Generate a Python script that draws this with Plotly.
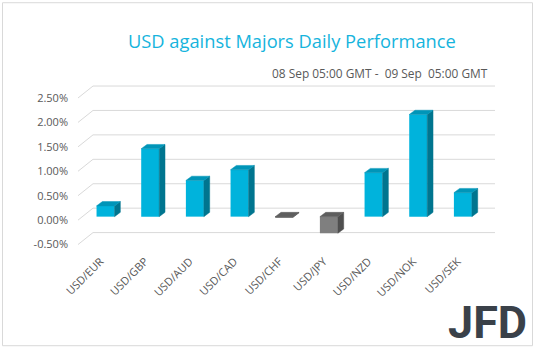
import plotly.graph_objects as go

# ---- data ----
categories = ["USD/EUR", "USD/GBP", "USD/AUD", "USD/CAD", "USD/CHF",
              "USD/JPY", "USD/NZD", "USD/NOK", "USD/SEK"]
values = [0.22, 1.39, 0.74, 0.96, -0.01, -0.34, 0.90, 2.09, 0.49]
ytick_vals = [-0.5, 0.0, 0.5, 1.0, 1.5, 2.0, 2.5]
ytick_text = ["-0.50%", "0.00%", "0.50%", "1.00%", "1.50%", "2.00%", "2.50%"]
title_text = "USD against Majors Daily Performance"
subtitle_text = "08 Sep 05:00 GMT -\u00a0 09 Sep\u00a0 05:00 GMT"

# ---- geometry (pixel layout) ----
W, H = 538, 351
PL, PR, PB, PT = 78, 500, 247.5, 78
PXU = 44.67   # px per category
PYU = 49.0    # px per 1%
XMIN = -0.5
XMAX = XMIN + (PR - PL) / PXU
YMIN = -0.55
YMAX = YMIN + (PB - PT) / PYU


def ux(p):
    return p / PXU


def uy(p):
    return p / PYU


def paper_x(p):
    return (p - PL) / (PR - PL)


def paper_y(p):
    return (PB - p) / (PB - PT)


FRONT_DX, FRONT_DY = ux(5.2), uy(3.5)
BAR_W = ux(18)
DEP_DX, DEP_DY = ux(5.8), uy(4.3)
WALL_DX, WALL_DY = ux(15), uy(12)

POS_FRONT, POS_SIDE, POS_TOP = "#00b3dc", "#00758f", "#0095b8"
NEG_FRONT, NEG_SIDE, NEG_TOP = "#7f7f7f", "#4f4f4f", "#5e5e5e"

fig = go.Figure()

# front faces
xs = [i + FRONT_DX for i in range(len(values))]
fig.add_trace(go.Bar(
    x=xs, y=values, base=FRONT_DY, width=BAR_W,
    marker=dict(color=[POS_FRONT if v >= 0 else NEG_FRONT for v in values],
                line=dict(width=0)),
    hoverinfo="skip"))


def faces(sign):
    sx, sy, tx, ty = [], [], [], []
    for i, v in enumerate(values):
        if (v >= 0) != sign:
            continue
        xl = i + FRONT_DX - BAR_W / 2
        xr = i + FRONT_DX + BAR_W / 2
        lo = min(v, 0) + FRONT_DY
        hi = max(v, 0) + FRONT_DY
        sx += [xr, xr, xr + DEP_DX, xr + DEP_DX, xr, None]
        sy += [lo, hi, hi + DEP_DY, lo + DEP_DY, lo, None]
        tx += [xl, xr, xr + DEP_DX, xl + DEP_DX, xl, None]
        ty += [hi, hi, hi + DEP_DY, hi + DEP_DY, hi, None]
    return sx, sy, tx, ty


for sign, cs, ct in [(True, POS_SIDE, POS_TOP), (False, NEG_SIDE, NEG_TOP)]:
    sx, sy, tx, ty = faces(sign)
    fig.add_trace(go.Scatter(x=sx, y=sy, mode="lines", fill="toself",
                             fillcolor=cs, line=dict(color=cs, width=0.5),
                             hoverinfo="skip"))
    fig.add_trace(go.Scatter(x=tx, y=ty, mode="lines", fill="toself",
                             fillcolor=ct, line=dict(color=ct, width=0.5),
                             hoverinfo="skip"))

shapes = []
n = len(categories)
for v in ytick_vals:
    x0, y0 = -0.5, v
    x1, y1 = -0.5 + WALL_DX, v + WALL_DY
    x2 = n - 0.5 + WALL_DX
    shapes.append(dict(type="path", xref="x", yref="y", layer="below",
                       path=f"M {x0},{y0} L {x1},{y1} L {x2},{y1}",
                       line=dict(color="#d9d9d9", width=1)))

# outer frame
shapes.append(dict(type="rect", xref="paper", yref="paper",
                   x0=paper_x(2.5), x1=paper_x(532.5),
                   y0=paper_y(346.5), y1=paper_y(2.5),
                   line=dict(color="#d9d9d9", width=1), layer="below"))

annotations = [
    dict(text=title_text, xref="paper", yref="paper",
         x=paper_x(292), y=paper_y(40), xanchor="center", yanchor="middle",
         showarrow=False, font=dict(family="Open Sans", size=18.3, color="#16b4dd")),
    dict(text=subtitle_text, xref="paper", yref="paper",
         x=paper_x(490), y=paper_y(73), xanchor="right", yanchor="middle",
         showarrow=False, font=dict(family="Open Sans", size=11.9, color="#595959")),
    dict(text="<b>JFD</b>", xref="paper", yref="paper",
         x=paper_x(487), y=paper_y(323), xanchor="center", yanchor="middle",
         showarrow=False, font=dict(family="Roboto", size=45, color="#3a4149")),
]

fig.update_layout(
    width=W, height=H,
    margin=dict(l=PL, r=W - PR, t=PT, b=H - PB, pad=0),
    paper_bgcolor="white", plot_bgcolor="white",
    showlegend=False, shapes=shapes, annotations=annotations,
    font=dict(family="Open Sans", color="#595959"),
    xaxis=dict(range=[XMIN, XMAX], tickvals=list(range(n)), ticktext=categories,
               tickangle=-45, showgrid=False, zeroline=False, showline=False,
               ticks="", tickfont=dict(size=11, color="#595959"),
               ticklabelstandoff=5, fixedrange=True),
    yaxis=dict(range=[YMIN, YMAX], tickvals=ytick_vals, ticktext=ytick_text,
               showgrid=False, zeroline=False, showline=False, ticks="",
               tickfont=dict(size=11, color="#595959"), ticklabelstandoff=9,
               fixedrange=True),
)

fig.write_html("out.html")
